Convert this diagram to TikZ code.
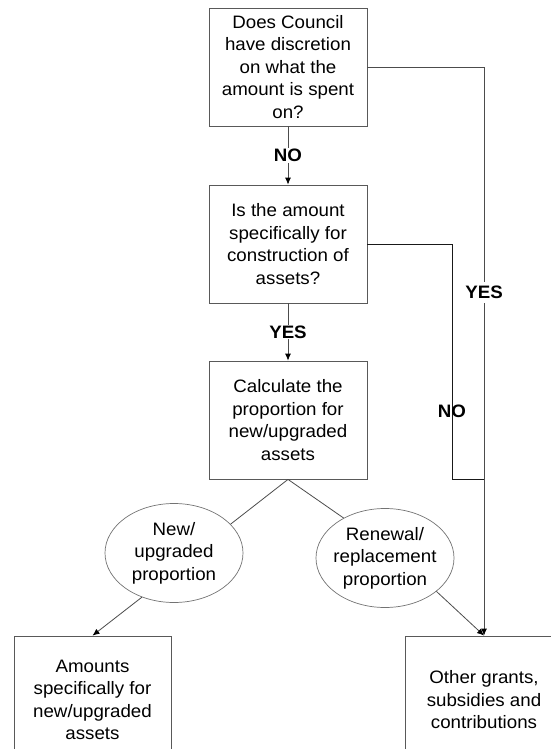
\documentclass[tikz,border=0pt]{standalone}
\usepackage{fontspec}
\setmainfont{Liberation Sans}[FakeStretch=1.04]
\usetikzlibrary{shapes.geometric,arrows.meta}
\tikzset{
    qbox/.style={draw=black!65, line width=0.8pt, rectangle, align=center,
        minimum width=158pt, minimum height=118pt, inner sep=0pt,
        font=\fontsize{18}{22.5}\selectfont},
    endbox/.style={qbox, minimum width=157pt, minimum height=128pt},
    share/.style={draw=black!55, line width=0.7pt, ellipse, align=center,
        minimum width=138pt, minimum height=99pt, inner sep=-6pt,
        font=\fontsize{18}{22.5}\selectfont},
    plain/.style={draw=black!70, line width=0.8pt},
    link/.style={plain, -{Latex[length=7pt,width=6pt,black]}},
    answer/.style={font=\bfseries\fontsize{18}{20}\selectfont, inner sep=1pt}
}
\begin{document}
\begin{tikzpicture}[x=1pt,y=-1pt]
    \useasboundingbox (0,0) rectangle (550,749);
    \node[qbox] (discretion) at (288,67) {Does Council\\have discretion\\on what the\\amount is spent\\on?};
    \node[qbox] (construction) at (288,244) {Is the amount\\specifically for\\construction of\\assets?};
    \node[qbox] (calculate) at (288,420) {Calculate the\\proportion for\\new/upgraded\\assets};
    \node[share] (newprop) at (174,553) {New/\\upgraded\\proportion};
    \node[share] (renewprop) at (385,558) {Renewal/\\replacement\\proportion};
    \node[endbox] (newamounts) at (92.5,700) {Amounts\\specifically for\\new/upgraded\\assets};
    \node[endbox] (othergrants) at (484,700) {Other grants,\\subsidies and\\contributions};
    \coordinate (noturn) at (452,479);
    \coordinate (merge) at (484,479);
    % decisions
    \draw[link] (discretion) -- node[answer, fill=white] (noA) {NO} (construction);
    \draw[link] (construction) -- node[answer, fill=white] (yesA) {YES} (calculate);
    \draw[link] (discretion.east) -| node[answer, fill=white, inner sep=4pt, pos=0.698] (yesB) {YES} (othergrants.north);
    \draw[plain, draw=black!90] (construction.east) -| node[answer, pos=0.855] (noB) {NO} (noturn) -- (merge);
    % split of the amount
    \draw[plain] (calculate.south) -- (newprop.27);
    \draw[plain] (calculate.south) -- (renewprop.136);
    \draw[link] (newprop.234) -- (newamounts.north);
    \draw[link] (renewprop.327) -- (othergrants.north);
\end{tikzpicture}
\end{document}
